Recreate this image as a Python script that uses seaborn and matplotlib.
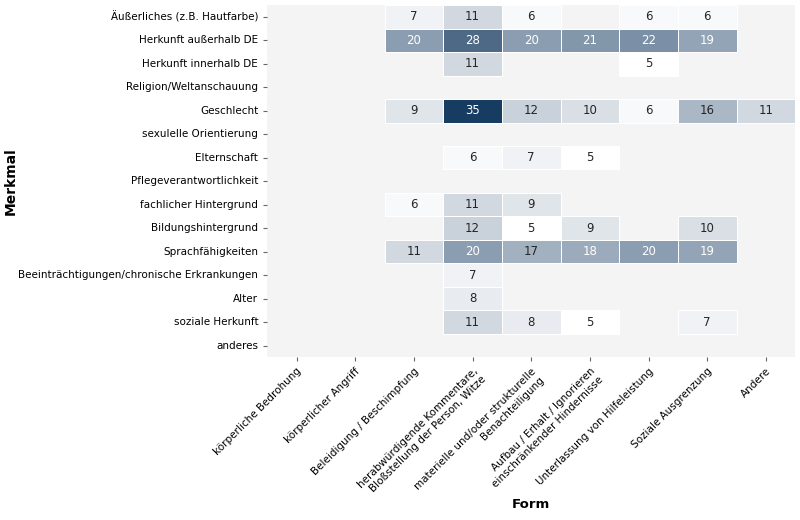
import numpy as np
import pandas as pd
import matplotlib
matplotlib.use("Agg")
import matplotlib.pyplot as plt
import seaborn as sns
from matplotlib.colors import LinearSegmentedColormap

nan = np.nan

merkmale = [
    "Äußerliches (z.B. Hautfarbe)", "Herkunft außerhalb DE", "Herkunft innerhalb DE",
    "Religion/Weltanschauung", "Geschlecht", "sexulelle Orientierung", "Elternschaft",
    "Pflegeverantwortlichkeit", "fachlicher Hintergrund", "Bildungshintergrund",
    "Sprachfähigkeiten", "Beeinträchtigungen/chronische Erkrankungen", "Alter",
    "soziale Herkunft", "anderes",
]
formen = [
    "körperliche Bedrohung",
    "körperlicher Angriff",
    "Beleidigung / Beschimpfung",
    "herabwürdigende Kommentare,\nBloßstellung der Person, Witze",
    "materielle und/oder strukturelle\nBenachteiligung",
    "Aufbau / Erhalt / Ignorieren\neinschränkender Hindernisse",
    "Unterlassung von Hilfeleistung",
    "Soziale Ausgrenzung",
    "Andere",
]

# Werte je Form (Spalte), Reihenfolge wie merkmale
bedrohung    = [nan] * 15
angriff      = [nan] * 15
beleidigung  = [7, 20, nan, nan, 9, nan, nan, nan, 6, nan, 11, nan, nan, nan, nan]
herabwuerdig = [11, 28, 11, nan, 35, nan, 6, nan, 11, 12, 20, 7, 8, 11, nan]
materiell    = [6, 20, nan, nan, 12, nan, 7, nan, 9, 5, 17, nan, nan, 8, nan]
hindernisse  = [nan, 21, nan, nan, 10, nan, 5, nan, nan, 9, 18, nan, nan, 5, nan]
unterlassung = [6, 22, 5, nan, 6, nan, nan, nan, nan, nan, 20, nan, nan, nan, nan]
ausgrenzung  = [6, 19, nan, nan, 16, nan, nan, nan, nan, 10, 19, nan, nan, 7, nan]
andere       = [nan, nan, nan, nan, 11, nan, nan, nan, nan, nan, nan, nan, nan, nan, nan]

df = pd.DataFrame(
    np.column_stack([bedrohung, angriff, beleidigung, herabwuerdig, materiell,
                     hindernisse, unterlassung, ausgrenzung, andere]),
    index=merkmale, columns=formen,
)

cmap = LinearSegmentedColormap.from_list("blau", ["#ffffff", "#173c62"])

fig, ax = plt.subplots(figsize=(8, 5.2), dpi=100)
fig.subplots_adjust(left=0.334, right=0.994, top=0.99, bottom=0.313)
ax.set_facecolor("#f4f4f4")

sns.heatmap(df, ax=ax, cmap=cmap, annot=True, fmt=".0f", cbar=False,
            linewidths=0.6, linecolor="white", vmin=5, vmax=35,
            annot_kws={"fontsize": 8.5})

# weisse Trennlinien nur um befuellte Zellen
mesh = ax.collections[0]
leer = np.isnan(df.values).ravel()
mesh.set_edgecolors([(1, 1, 1, 0) if m else (1, 1, 1, 1) for m in leer])

ax.set_xticklabels(ax.get_xticklabels(), rotation=45, ha="right",
                   rotation_mode="anchor", fontsize=7.5)
ax.set_yticklabels(ax.get_yticklabels(), rotation=0, fontsize=7.5)
ax.tick_params(axis="both", length=3, color="#666666")
ax.set_xlabel("Form", fontsize=9.5, fontweight="bold", labelpad=-1)
ax.set_ylabel("Merkmal", fontsize=10, fontweight="bold")
ax.yaxis.set_label_coords(-0.472, 0.5)

fig.savefig("out.png")
